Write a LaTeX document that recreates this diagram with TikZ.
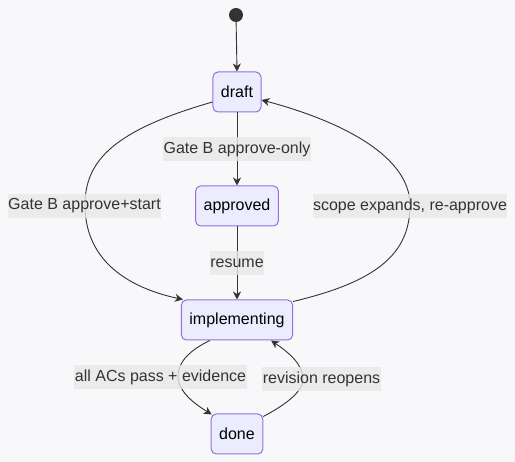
\documentclass[tikz,border=0pt]{standalone}
\usepackage{fontspec}
\setmainfont{Liberation Sans}
\usetikzlibrary{arrows.meta}
\definecolor{bgc}{RGB}{248,248,250}
\definecolor{nodefill}{RGB}{236,236,255}
\definecolor{nodeborder}{RGB}{147,112,219}
\definecolor{ink}{RGB}{51,51,51}
\definecolor{lblbg}{RGB}{232,232,232}
\tikzset{
  state/.style={draw=nodeborder, fill=nodefill, line width=1pt, rounded corners=5pt,
    minimum height=40pt, inner xsep=8pt, text=black,
    font=\fontsize{16}{19}\selectfont},
  lbl/.style={fill=lblbg, fill opacity=0.8, text opacity=1, text=ink, inner xsep=0.5pt,
    minimum height=24pt, font=\fontsize{16}{19}\selectfont},
  conn/.style={draw=ink, line width=0.9pt, -{Stealth[length=8pt,width=8pt,inset=2.5pt]}},
}
\begin{document}
\begin{tikzpicture}[x=1pt,y=-1pt]
\useasboundingbox[fill=bgc] (0,0) rectangle (515,462);
\node[circle, fill=ink, minimum size=14pt, inner sep=0pt] (start) at (236,15) {};
\node[state] (draft) at (237,92) {draft};
\node[state] (approved) at (237,206) {approved};
\node[state] (impl) at (237,320) {implementing};
\node[state] (done) at (237,434) {done};

\draw[conn] (start) -- (draft.north);
\draw[conn] (draft) -- (approved);
\draw[conn] (approved) -- (impl);
\draw[conn] ([yshift=-10pt]draft.west) .. controls (115,130) and (85,160) .. (85,205)
  .. controls (85,262) and (130,288) .. ([xshift=2pt]impl.north west);
\draw[conn] ([yshift=-2pt]impl.north east) .. controls (375,282) and (410,255) .. (410,205)
  .. controls (410,152) and (330,118) .. ([yshift=-8pt]draft.east);
\draw[conn] ([xshift=29pt]impl.south west) .. controls (190,350) and (178,362) .. (178,376)
  .. controls (178,392) and (195,404) .. ([yshift=-1pt,xshift=1pt]done.north west);
\draw[conn] ([yshift=-3pt]done.north east) .. controls (285,405) and (303,392) .. (303,379)
  .. controls (303,364) and (288,352) .. ([xshift=-22pt]impl.south east);

\node[lbl] (l1) at (237,149) {Gate B approve-only};
\node[lbl] (l2) at (84.5,206) {Gate B approve+start};
\node[lbl] (l3) at (410,206) {scope expands, re-approve};
\node[lbl] (l4) at (237,263) {resume};
\node[lbl] (l5) at (160.5,377) {all ACs pass + evidence};
\node[lbl] (l6) at (321.5,379) {revision reopens};
\end{tikzpicture}
\end{document}
